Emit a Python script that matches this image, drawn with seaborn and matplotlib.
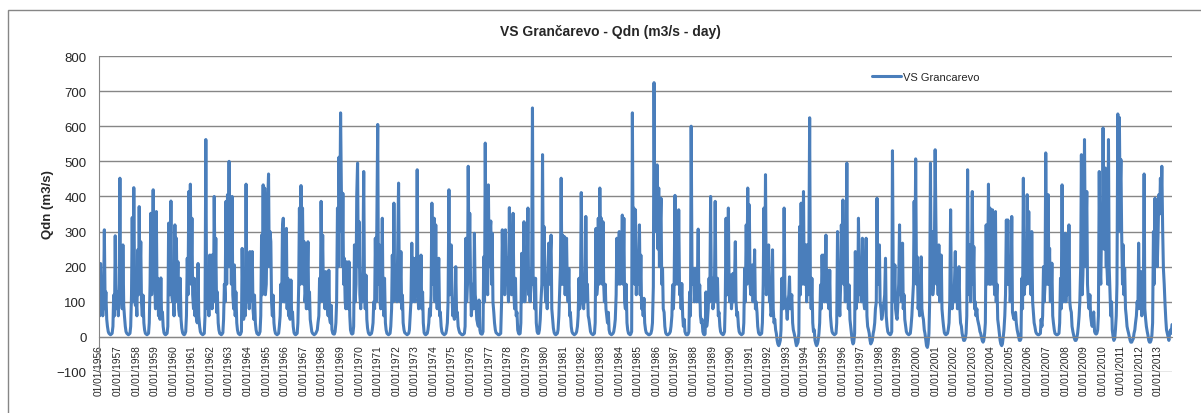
import pandas as pd
import matplotlib.pyplot as plt
from matplotlib.patches import Rectangle
import seaborn as sns

sns.set_style('white')
plt.rcParams['font.family'] = ['Liberation Sans', 'DejaVu Sans']

# Half-monthly Qdn (m3/s), 24 values per year (1st / 15th)
q1956_59 = [
    120, 60, 209, 90, 150, 60, 120, 305, 80, 128, 50, 30, 15, 10, 8, 6, 8, 10, 30, 119, 60, 288, 80, 100,
    128, 60, 150, 452, 100, 140, 80, 262, 90, 60, 30, 15, 10, 8, 6, 8, 10, 30, 120, 340, 100, 425, 150, 90,
    100, 60, 248, 120, 371, 150, 271, 100, 60, 119, 40, 20, 10, 8, 6, 8, 10, 40, 150, 352, 120, 200, 419, 150,
    150, 80, 357, 120, 167, 60, 100, 50, 168, 60, 71, 30, 12, 8, 6, 8, 10, 30, 324, 120, 200, 387, 120, 100,
]
q1960s = [
    120, 60, 319, 100, 281, 120, 214, 80, 60, 167, 50, 25, 12, 8, 6, 8, 15, 60, 224, 120, 414, 200, 435, 150,
    338, 120, 80, 167, 60, 100, 50, 40, 209, 60, 30, 15, 10, 8, 6, 8, 10, 60, 562, 150, 80, 120, 60, 233,
    120, 233, 80, 233, 100, 400, 150, 281, 70, 128, 40, 20, 10, 8, 6, 8, 12, 50, 150, 100, 386, 150, 405, 200,
    500, 200, 350, 150, 400, 120, 80, 205, 60, 128, 40, 20, 10, 8, 6, 8, 15, 252, 80, 50, 119, 60, 435, 150,
    100, 205, 80, 243, 100, 150, 243, 80, 50, 119, 40, 20, 10, 8, 6, 8, 15, 60, 290, 120, 433, 150, 424, 120,
    150, 300, 400, 464, 200, 300, 271, 100, 60, 119, 40, 20, 10, 8, 6, 8, 10, 30, 60, 150, 100, 309, 338, 100,
    100, 150, 309, 80, 167, 60, 100, 50, 162, 60, 71, 30, 12, 8, 6, 8, 10, 40, 150, 367, 150, 431, 200, 367,
    150, 271, 100, 130, 80, 150, 271, 80, 128, 50, 30, 15, 10, 8, 6, 8, 10, 15, 20, 40, 60, 167, 100, 386,
    150, 290, 100, 120, 80, 186, 80, 100, 60, 190, 50, 40, 90, 20, 10, 8, 8, 15, 40, 100, 367, 200, 512, 300,
    638, 443, 200, 409, 150, 224, 100, 80, 214, 100, 80, 214, 60, 20, 10, 8, 10, 30, 262, 100, 150, 405, 495, 200,
]
q1970s = [
    328, 120, 80, 148, 100, 200, 471, 150, 80, 176, 50, 25, 12, 8, 6, 8, 10, 20, 40, 100, 80, 281, 100, 338,
    605, 150, 262, 100, 80, 150, 338, 100, 60, 167, 40, 20, 10, 8, 6, 8, 10, 30, 80, 233, 100, 381, 120, 150,
    150, 100, 281, 438, 150, 100, 243, 80, 119, 40, 20, 12, 10, 8, 6, 8, 10, 20, 60, 100, 267, 100, 224, 120,
    100, 224, 150, 476, 120, 80, 200, 100, 233, 80, 128, 40, 12, 8, 6, 8, 10, 20, 40, 80, 60, 120, 381, 150,
    150, 338, 100, 319, 120, 80, 150, 224, 60, 71, 30, 15, 10, 8, 6, 8, 10, 20, 40, 100, 419, 120, 167, 262,
    120, 60, 100, 50, 80, 200, 60, 70, 30, 20, 12, 10, 8, 6, 6, 8, 10, 30, 281, 100, 150, 486, 200, 352,
    148, 60, 100, 150, 80, 295, 120, 100, 50, 40, 30, 105, 20, 10, 8, 8, 15, 228, 100, 552, 150, 167, 120, 433,
    200, 295, 330, 150, 295, 100, 70, 40, 20, 12, 10, 8, 6, 6, 8, 10, 100, 305, 150, 200, 120, 305, 150, 224,
    150, 100, 368, 150, 224, 120, 200, 352, 120, 80, 167, 60, 70, 20, 10, 8, 10, 40, 238, 100, 150, 328, 100, 150,
    200, 150, 367, 120, 167, 100, 150, 200, 652, 150, 167, 80, 167, 40, 15, 10, 10, 20, 50, 100, 150, 519, 150, 314,
]
q1980s = [
    150, 100, 150, 80, 200, 267, 150, 230, 290, 80, 50, 25, 12, 8, 6, 8, 10, 20, 60, 120, 200, 452, 150, 290,
    150, 286, 120, 200, 281, 150, 100, 195, 60, 70, 30, 15, 10, 8, 6, 8, 10, 15, 30, 60, 167, 80, 150, 411,
    205, 100, 80, 150, 100, 343, 120, 150, 60, 50, 30, 15, 10, 8, 6, 8, 10, 40, 309, 120, 150, 338, 150, 424,
    200, 338, 150, 328, 150, 100, 150, 80, 60, 40, 70, 20, 10, 8, 6, 8, 10, 15, 30, 50, 120, 281, 150, 200,
    300, 150, 295, 200, 347, 150, 338, 100, 80, 150, 40, 20, 10, 8, 6, 8, 15, 638, 200, 367, 150, 362, 120, 200,
    150, 200, 319, 120, 233, 80, 100, 60, 110, 40, 20, 12, 10, 8, 6, 6, 8, 10, 20, 40, 143, 724, 300, 428,
    300, 490, 250, 424, 200, 300, 395, 150, 195, 80, 70, 30, 12, 8, 6, 6, 8, 10, 15, 30, 60, 148, 80, 150,
    403, 150, 200, 357, 150, 362, 120, 152, 80, 152, 60, 30, 50, 15, 8, 6, 6, 8, 15, 128, 60, 600, 200, 150,
    195, 100, 150, 195, 100, 150, 307, 100, 148, 60, 40, 50, 15, 8, 6, 8, 128, 30, 50, 80, 167, 100, 400, 150,
    167, 80, 100, 150, 386, 150, 100, 167, 60, 70, 30, 15, 10, 8, 6, 8, 15, 100, 338, 120, 200, 367, 120, 100,
]
q1990s = [
    176, 80, 120, 181, 100, 150, 271, 100, 60, 70, 30, 15, 10, 8, 6, 8, 10, 40, 195, 100, 319, 150, 424, 200,
    376, 150, 120, 200, 205, 100, 150, 248, 80, 100, 70, 30, 12, 8, 6, 8, 10, 40, 150, 367, 150, 462, 120, 150,
    150, 262, 100, 120, 60, 70, 248, 80, 40, 50, 20, 10, -10, -20, -25, -20, -10, 20, 167, 100, 80, 367, 120, 100,
    80, 50, 100, 120, 171, 80, 100, 120, 40, 20, 10, 0, -15, -25, -20, -15, 10, 314, 120, 381, 150, 200, 414, 150,
    150, 262, 100, 262, 120, 200, 624, 150, 80, 167, 40, 15, 20, -10, -20, -25, -20, -10, 10, 40, 148, 80, 233, 150,
    233, 100, 150, 290, 100, 190, 100, 80, 190, 60, 30, 15, 10, 8, 6, 8, 10, 40, 300, 100, 100, 60, 150, 319,
    200, 390, 150, 200, 100, 150, 495, 150, 80, 148, 50, 30, 10, -10, -20, -15, 10, 243, 80, 150, 100, 338, 200, 120,
    150, 100, 281, 120, 100, 80, 150, 281, 60, 30, 20, 10, -10, -20, -15, -10, 10, 20, 40, 80, 100, 395, 150, 200,
    262, 100, 80, 50, 60, 80, 100, 120, 224, 60, 30, 15, 10, 8, 6, 8, 15, 530, 150, 100, 205, 80, 60, 50,
    100, 150, 319, 120, 150, 100, 267, 80, 120, 50, 30, 15, 10, 8, 6, 8, 10, 30, 60, 100, 150, 386, 200, 507,
]
q2000s = [
    150, 228, 80, 100, 60, 120, 228, 80, 60, 50, 20, 10, -10, -25, -30, -20, 10, 100, 495, 150, 300, 120, 150, 200,
    533, 338, 150, 200, 120, 262, 100, 120, 233, 80, 50, 30, 12, 8, 6, 8, 10, 20, 40, 100, 362, 150, 80, 100,
    100, 150, 243, 100, 195, 80, 120, 200, 80, 40, 30, 10, 0, -10, -10, -5, 10, 60, 476, 150, 120, 262, 100, 200,
    414, 150, 257, 80, 100, 60, 80, 50, 40, 30, 15, 10, 0, -10, -15, -10, 10, 40, 319, 150, 200, 435, 150, 367,
    150, 200, 362, 150, 200, 120, 357, 100, 150, 50, 30, 10, -10, -20, -25, -20, 0, 20, 60, 120, 333, 150, 333, 150,
    205, 100, 150, 343, 70, 60, 50, 60, 70, 40, 20, 10, 0, -10, -10, -5, 167, 80, 452, 120, 150, 200, 150, 405,
    200, 357, 150, 290, 120, 300, 100, 70, 40, 30, 15, 10, 8, 6, 6, 8, 10, 50, 30, 60, 200, 100, 150, 524,
    200, 150, 405, 150, 252, 100, 120, 210, 60, 40, 20, 10, 8, 6, 6, 8, 10, 40, 167, 80, 433, 150, 100, 150,
    295, 100, 219, 120, 150, 319, 100, 80, 70, 30, 15, 5, -5, -10, -10, -5, 10, 30, 60, 100, 200, 519, 120, 176,
    300, 562, 200, 300, 414, 150, 100, 80, 120, 60, 40, 30, 50, 71, 15, 10, 8, 10, 20, 60, 471, 200, 150, 300,
]
q2010_13 = [
    300, 595, 250, 400, 481, 200, 200, 150, 562, 200, 120, 60, 100, 20, 0, -10, -5, 20, 60, 150, 635, 300, 625, 400,
    505, 300, 150, 262, 120, 195, 80, 60, 30, 20, 10, 0, -10, -15, -15, -10, -5, 10, 20, 40, 60, 100, 80, 267,
    100, 80, 186, 60, 100, 80, 464, 80, 50, 30, 15, 5, -10, -15, -15, -10, 5, 40, 300, 150, 395, 200, 380, 200,
    300, 405, 350, 452, 380, 486, 300, 195, 150, 100, 50, 20, 10, 0, -10, 10, 20, 10, 35,
]

years = list(range(1956, 2014))
tick_labels = ['01/01/%d' % y for y in years]

qdn = q1956_59 + q1960s + q1970s + q1980s + q1990s + q2000s + q2010_13
df = pd.DataFrame({
    'date': pd.date_range('1956-01-01', periods=len(qdn), freq='SMS'),
    'Qdn': qdn,
})

W, H = 1201, 414
fig = plt.figure(figsize=(W / 100, H / 100), dpi=100)
ax = fig.add_axes([99 / W, 1 - 373 / H, (1172 - 99) / W, (373 - 57) / H])

grey = '#868686'
line_col = '#4A7EBB'

sns.lineplot(data=df, x='date', y='Qdn', ax=ax, color=line_col, lw=2.2,
             estimator=None, label='VS Grancarevo')

ax.set_ylim(-100, 800)
ax.set_yticks(range(-100, 801, 100))
ax.set_xlim(df['date'].iloc[0], df['date'].iloc[-1])
ax.set_xticks([pd.Timestamp('%d-01-01' % y) for y in years])
ax.set_xticklabels(tick_labels)
ax.tick_params(axis='x', length=0, pad=5, labelrotation=90, labelsize=7.3)
ax.tick_params(axis='y', length=0, pad=9, labelsize=9.5)
ax.grid(axis='y', color=grey, lw=1)
ax.grid(axis='x', visible=False)
ax.set_axisbelow(True)

for s in ['top', 'right']:
    ax.spines[s].set_visible(False)
ax.spines['left'].set_color(grey)
ax.spines['bottom'].set_color(grey)
ax.spines['bottom'].set_position(('data', 0))
ax.set_xlabel('')
ax.set_ylabel('')

fig.text(610 / W, 1 - 32 / H, 'VS Grančarevo - Qdn (m3/s - day)',
         ha='center', va='center', fontsize=10, fontweight='bold')
fig.text(48 / W, 1 - 205 / H, 'Qdn (m3/s)', rotation=90,
         ha='center', va='center', fontsize=9.5, fontweight='bold')

ax.legend(loc='center left', bbox_to_anchor=(872 / W, 1 - 78 / H),
          bbox_transform=fig.transFigure, frameon=False, fontsize=8,
          handlelength=2.6, handletextpad=0.2, borderpad=0, borderaxespad=0)

fig.patches.append(Rectangle((8 / W, -0.1), 1.2, 1 - 11 / H + 0.1,
                             transform=fig.transFigure, fill=False,
                             edgecolor=grey, lw=1))

fig.savefig('out.png', dpi=100)
